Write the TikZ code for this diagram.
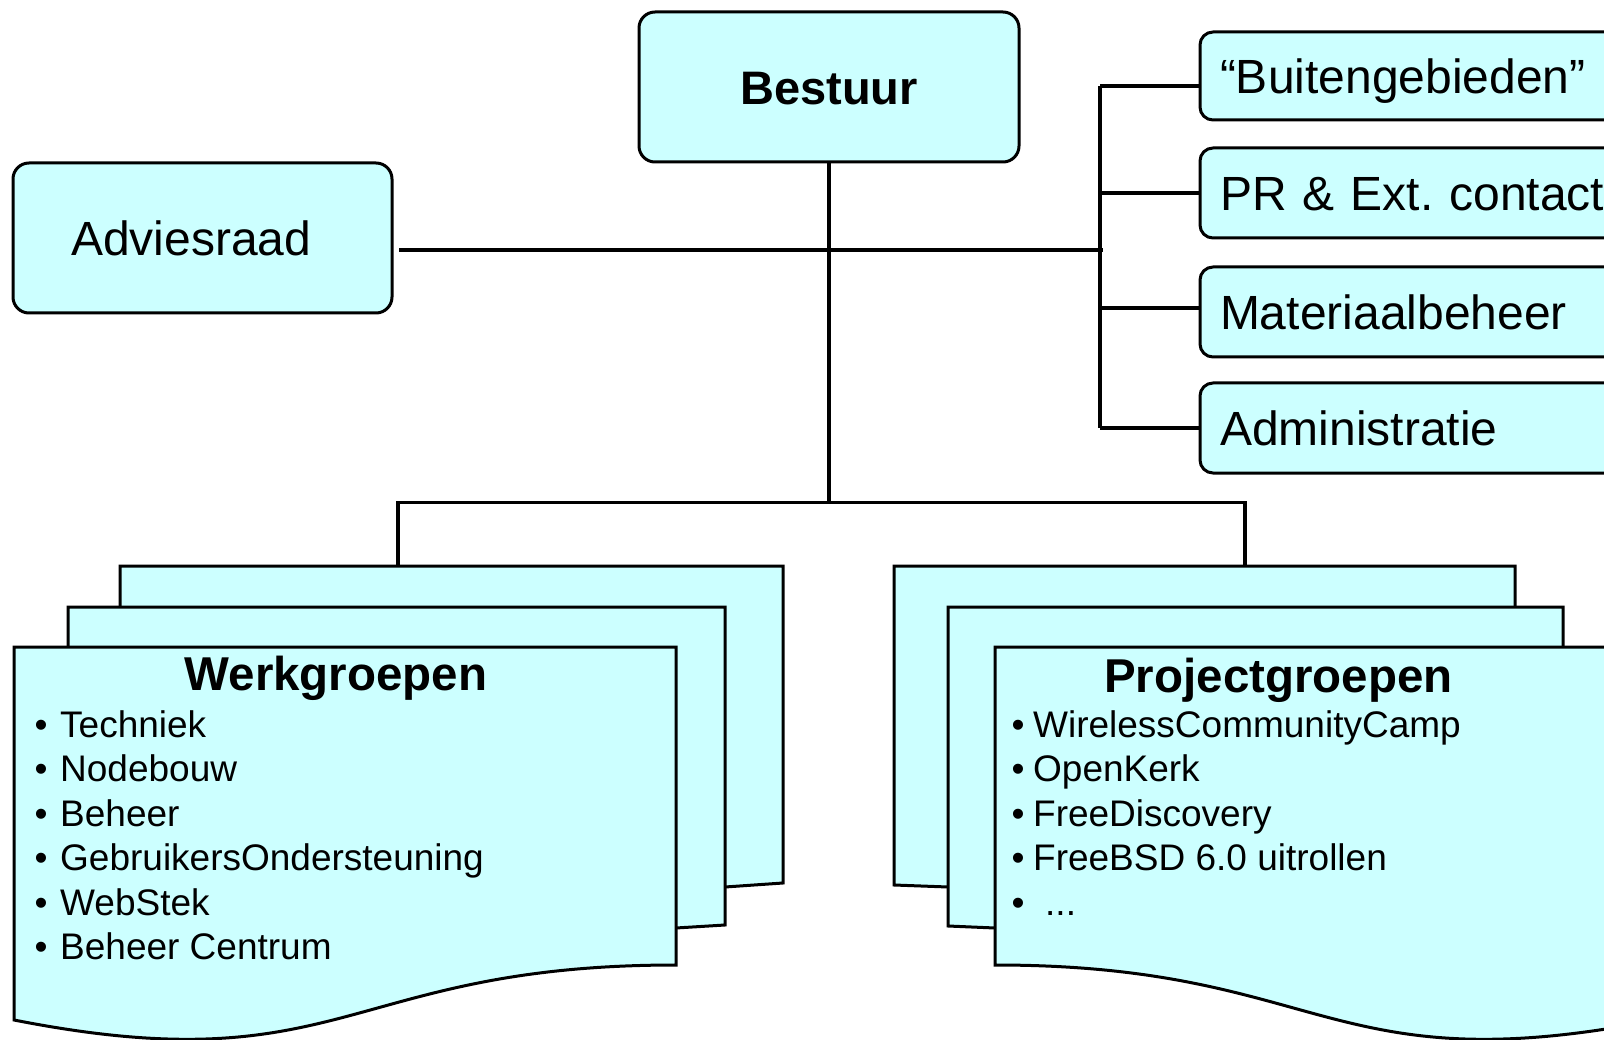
\documentclass[tikz,border=0pt]{standalone}
\usepackage{fontspec}
\setmainfont{Liberation Sans}
\definecolor{boxfill}{RGB}{204,255,255}
\frenchspacing
\begin{document}
\begin{tikzpicture}[x=1pt,y=-1pt,
  ln/.style={line width=3.5pt, draw=black},
  rbox/.style={draw=black, line width=3pt, fill=boxfill, rounded corners=16pt, inner sep=0pt, text height=36pt, text depth=0pt, font=\fontsize{48}{56}\selectfont},
  sidebox/.style={rbox, rounded corners=13pt, minimum width=460pt, text width=420pt, align=left},
  page/.style={draw=black, line width=3pt, fill=boxfill, line join=miter},
  item/.style={anchor=base west, inner sep=0pt, font=\fontsize{37}{44}\selectfont},
  grouptitle/.style={anchor=base, inner sep=0pt, font=\bfseries\fontsize{47.5}{56}\selectfont}]
\useasboundingbox (0,0) rectangle (1604,1040);
\clip (0,0) rectangle (1604,1040);

% top boxes
\node[rbox, minimum width=380pt, minimum height=150pt, font=\bfseries\fontsize{47}{56}\selectfont] (bestuur) at (829,87) {Bestuur};
\node[rbox, minimum width=379pt, minimum height=150pt, text width=263pt, align=left] (adv) at (202.5,238) {Adviesraad};

\node[sidebox, minimum height=88pt] (r1) at (1430,76) {“Buitengebieden”};
\node[sidebox, minimum height=90pt] (r2) at (1430,193) {PR \& Ext. contact};
\node[sidebox, minimum height=90pt] (r3) at (1430,312) {Materiaalbeheer};
\node[sidebox, minimum height=90pt] (r4) at (1430,428) {Administratie};

% left multi-document (Werkgroepen)
\path[page] (120,890) -- (120,566) -- (783,566) -- (783,883) -- (725,887) -- cycle;
\path[page] (68,930) -- (68,607) -- (725,607) -- (725,925) -- (676,928) -- cycle;
\path[page] (14,1020) -- (14,647) -- (676,647) -- (676,965) .. controls (345,965) and (345,1085) .. (14,1020) -- cycle;

% right multi-document (Projectgroepen)
\path[page] (894,885) -- (894,566) -- (1515,566) -- (1515,890) -- (948,887) -- cycle;
\path[page] (948,926) -- (948,607) -- (1563,607) -- (1563,930) -- (995,928) -- cycle;
\path[page] (995,965) -- (995,647) -- (1657,647) -- (1657,1020) .. controls (1326,1085) and (1326,965) .. (995,965) -- cycle;

% group texts
\node[grouptitle] (wg) at (336,690) {Werkgroepen};
\node[item] (w1) at (34.5,737) {\makebox[25.5pt][l]{•}Techniek};
\node[item] (w2) at (34.5,781.5) {\makebox[25.5pt][l]{•}Nodebouw};
\node[item] (w3) at (34.5,826) {\makebox[25.5pt][l]{•}Beheer};
\node[item] (w4) at (34.5,870.5) {\makebox[25.5pt][l]{•}GebruikersOndersteuning};
\node[item] (w5) at (34.5,915) {\makebox[25.5pt][l]{•}WebStek};
\node[item] (w6) at (34.5,959.5) {\makebox[25.5pt][l]{•}Beheer Centrum};

\node[grouptitle] (pg) at (1278.5,692) {Projectgroepen};
\node[item] (p1) at (1011.5,737) {\makebox[21.5pt][l]{•}WirelessCommunityCamp};
\node[item] (p2) at (1011.5,781.5) {\makebox[21.5pt][l]{•}OpenKerk};
\node[item] (p3) at (1011.5,826) {\makebox[21.5pt][l]{•}FreeDiscovery};
\node[item] (p4) at (1011.5,870.5) {\makebox[21.5pt][l]{•}FreeBSD 6.0 uitrollen};
\node[item] (p5) at (1011.5,915) {\makebox[33.5pt][l]{•}...};

% connectors
\coordinate (bl) at (398,502.5);
\coordinate (br) at (1245,502.5);
\coordinate (wgtop) at (398,566);
\coordinate (pgtop) at (1245,566);
\draw[ln] (bestuur.south) -- (bestuur.south |- bl);
\draw[ln, line join=miter] (wgtop) -- (bl) -- (br) -- (pgtop);

\coordinate (rt) at (1100,86);
\coordinate (rb) at (1100,428);
\coordinate (advend) at (399,250);
\draw[ln] (rt) -- (rb);
\draw[ln] (advend) -- ([xshift=3pt]rt |- advend);
\draw[ln] (rt) -- (r1.west |- rt);
\draw[ln] (rt |- r2.west) -- (r2.west);
\draw[ln] (1100,308) coordinate (j3) -- (r3.west |- j3);
\draw[ln] (rb) -- (r4.west |- rb);
\end{tikzpicture}
\end{document}
